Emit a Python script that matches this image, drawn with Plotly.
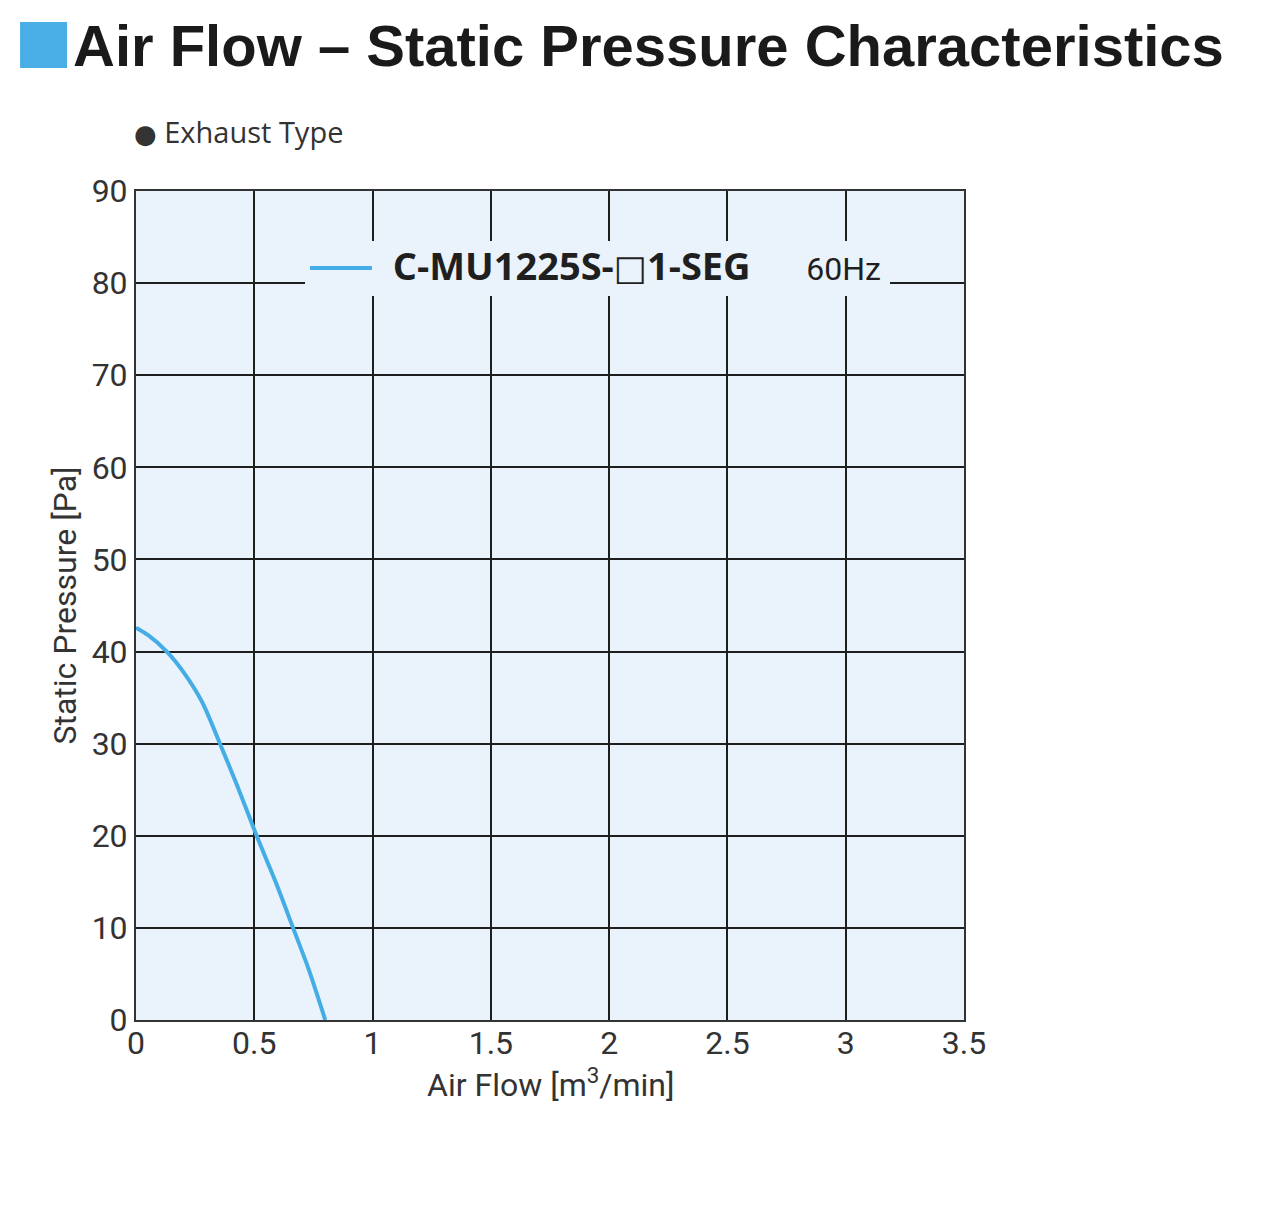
import plotly.graph_objects as go

# Exhaust type, 60Hz curve
air_flow = [0.0, 0.05, 0.13, 0.20, 0.28, 0.355, 0.43, 0.51, 0.59, 0.664, 0.73, 0.80]
static_pressure = [42.6, 41.8, 40.0, 37.8, 34.5, 30.0, 25.3, 20.0, 15.0, 10.0, 5.5, 0.0]

x_ticks = [0, 0.5, 1, 1.5, 2, 2.5, 3, 3.5]
x_tick_text = ["0", "0.5", "1", "1.5", "2", "2.5", "3", "3.5"]
y_ticks = [0, 10, 20, 30, 40, 50, 60, 70, 80, 90]

model_prefix = "C-MU1225S-"
model_suffix = "1-SEG"
frequency = "60Hz"

narrow = "Roboto, Liberation Sans, sans-serif"
blue = "#45ade6"
grid = "#1e1e1e"

legend_name = (
    "  "
    f"<span style='font-family:Open Sans;font-weight:bold;font-size:38px'>{model_prefix}</span>"
    "<span style='font-family:DejaVu Sans;font-weight:normal;font-size:35px'>□</span>"
    f"<span style='font-family:Open Sans;font-weight:bold;font-size:38px'>{model_suffix}</span>"
    f"<span style='font-family:Roboto'>       {frequency}</span>"
)

fig = go.Figure()
fig.add_trace(go.Scatter(
    x=air_flow,
    y=static_pressure,
    mode="lines",
    line=dict(color=blue, width=4, shape="spline", smoothing=0.8),
    name=legend_name,
    hoverinfo="skip",
))

fig.update_layout(
    width=1264,
    height=1200,
    margin=dict(l=128, r=308, t=183, b=188),
    paper_bgcolor="white",
    plot_bgcolor="#eaf3fc",
    font=dict(family=narrow, size=31, color="#333333"),
    showlegend=True,
    legend=dict(
        x=0.204, y=0.907, xanchor="left", yanchor="middle",
        orientation="h",
        bgcolor="#eaf3fc",
        itemwidth=62,
        entrywidth=508,
        font=dict(size=32, color="#1f1f1f"),
        borderwidth=0,
    ),
)

fig.update_xaxes(
    range=[0, 3.5],
    tickvals=x_ticks,
    ticktext=x_tick_text,
    showgrid=True, gridcolor=grid, gridwidth=2,
    showline=True, linecolor="#333333", linewidth=2, mirror=True,
    zeroline=False,
    ticks="", ticklen=0,
    ticklabelstandoff=-6,
    tickfont=dict(size=32, color="#333333"),
)
fig.update_yaxes(
    range=[0, 90],
    tickvals=y_ticks,
    showgrid=True, gridcolor=grid, gridwidth=2,
    showline=True, linecolor="#333333", linewidth=2, mirror=True,
    zeroline=False,
    ticks="", ticklen=0,
    tickfont=dict(size=32, color="#333333"),
    title=dict(text="Static Pressure [Pa]", font=dict(size=32, color="#333333"), standoff=5),
)

# x axis title placed as annotation to sit closer to the tick labels
fig.add_annotation(
    text="Air Flow [m<sup>3</sup>/min]",
    xref="paper", yref="paper", x=0.5, y=-0.076,
    xanchor="center", yanchor="middle", showarrow=False,
    font=dict(family=narrow, size=32, color="#333333"),
)

# header: blue square + bold title
fig.add_shape(
    type="rect", xref="paper", yref="paper",
    x0=-0.140, x1=-0.0833, y0=1.1484, y1=1.2038,
    fillcolor="#4aaee6", line=dict(width=0),
)
fig.add_annotation(
    text="<b>Air Flow – Static Pressure Characteristics</b>",
    xref="paper", yref="paper", x=-0.0780, y=1.176,
    xanchor="left", yanchor="middle", showarrow=False,
    font=dict(family="Liberation Sans, Arial, sans-serif", size=58, color="#1a1a1a"),
)
fig.add_annotation(
    text="<span style='font-family:DejaVu Sans;font-size:26px'>●</span> Exhaust Type",
    xref="paper", yref="paper", x=-0.0050, y=1.072,
    xanchor="left", yanchor="middle", showarrow=False,
    font=dict(family="Open Sans, Lato, sans-serif", size=29, color="#333333"),
)

fig.write_html("out.html")
